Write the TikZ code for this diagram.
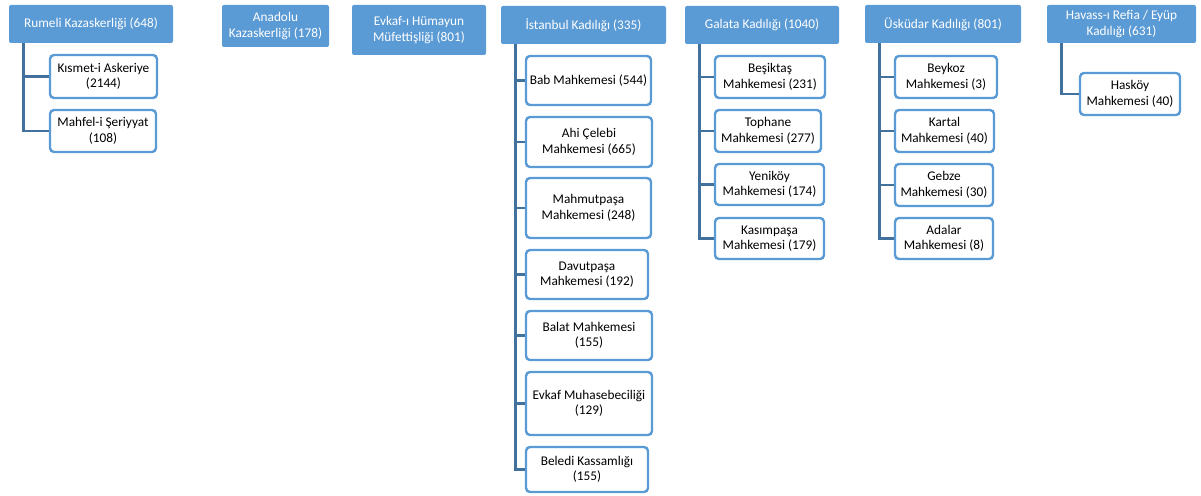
\documentclass[tikz,border=0pt]{standalone}
\usepackage{fontspec}
\setmainfont{Carlito}
\definecolor{hdblue}{HTML}{5B9BD5}
\definecolor{lnblue}{HTML}{41719C}
\tikzset{
  head/.style={fill=hdblue, rounded corners=2pt, text=white, align=center, inner sep=0pt,
    font=\fontsize{13.3}{15.5}\selectfont},
  kid/.style={draw=hdblue, line width=2.4pt, fill=white, rounded corners=4pt, align=center,
    inner sep=0pt, font=\fontsize{13.3}{15.5}\selectfont},
  wh/.style 2 args={minimum width=#1pt-2pt, minimum height=#2pt-2pt},
  link/.style={draw=lnblue, line width=2.8pt}
}
\begin{document}
\begin{tikzpicture}[x=1pt, y=-1pt]
\useasboundingbox (0,0) rectangle (1201,495);

% top row
\node[head, wh={166}{40}] (rum) at (91,24) {Rumeli Kazaskerliği (648)};
\node[head, wh={109}{44}] (ana) at (275.5,26) {Anadolu\\Kazaskerliği (178)};
\node[head, wh={136}{52}] (evk) at (419,30) {Evkaf-ı Hümayun\\Müfettişliği (801)};
\node[head, wh={167}{40}] (ist) at (583.5,25) {İstanbul Kadılığı (335)};
\node[head, wh={156}{40}] (gal) at (762,25) {Galata Kadılığı (1040)};
\node[head, wh={158}{40}] (usk) at (943,24) {Üsküdar Kadılığı (801)};
\node[head, wh={151}{40}] (hav) at (1121.5,24) {Havass-ı Refia / Eyüp\\Kadılığı (631)};

% Rumeli
\node[kid, wh={109}{45}] (kis) at (103.5,76.5) {Kısmet-i Askeriye\\(2144)};
\node[kid, wh={108}{44}] (mhf) at (103,131) {Mahfel-i Şeriyyat\\(108)};

% Istanbul
\node[kid, wh={127}{51}] (bab) at (588.5,80.5) {Bab Mahkemesi (544)};
\node[kid, wh={128}{52}] (ahi) at (589,142) {Ahi Çelebi\\Mahkemesi (665)};
\node[kid, wh={127}{62}] (mhp) at (588.5,208) {Mahmutpaşa\\Mahkemesi (248)};
\node[kid, wh={124}{51}] (dav) at (587,274.5) {Davutpaşa\\Mahkemesi (192)};
\node[kid, wh={128}{51}] (bal) at (589,335.5) {Balat Mahkemesi\\(155)};
\node[kid, wh={128}{65}] (evm) at (589,403.5) {Evkaf Muhasebeciliği\\(129)};
\node[kid, wh={124}{47}] (bel) at (587,469.5) {Beledi Kassamlığı\\(155)};

% Galata
\node[kid, wh={112}{44}] (bes) at (770,77) {Beşiktaş\\Mahkemesi (231)};
\node[kid, wh={108}{44}] (top) at (768,131) {Tophane\\Mahkemesi (277)};
\node[kid, wh={111}{43}] (yen) at (769.5,184.5) {Yeniköy\\Mahkemesi (174)};
\node[kid, wh={111}{43}] (kas) at (769.5,238.5) {Kasımpaşa\\Mahkemesi (179)};

% Uskudar
\node[kid, wh={104}{44}] (bey) at (946,77) {Beykoz\\Mahkemesi (3)};
\node[kid, wh={101}{44}] (kar) at (944.5,131) {Kartal\\Mahkemesi (40)};
\node[kid, wh={100}{44}] (geb) at (944,185) {Gebze\\Mahkemesi (30)};
\node[kid, wh={100}{43}] (ada) at (944,238.5) {Adalar\\Mahkemesi (8)};

% Havass
\node[kid, wh={102}{44}] (has) at (1130,94) {Hasköy\\Mahkemesi (40)};

% connectors
\foreach \p/\c in {rum/kis, rum/mhf,
  ist/bab, ist/ahi, ist/mhp, ist/dav, ist/bal, ist/evm, ist/bel,
  gal/bes, gal/top, gal/yen, gal/kas,
  usk/bey, usk/kar, usk/geb, usk/ada, hav/has}
  \draw[link] ([xshift=15pt]\p.south west) |- (\c.west);

\end{tikzpicture}
\end{document}
